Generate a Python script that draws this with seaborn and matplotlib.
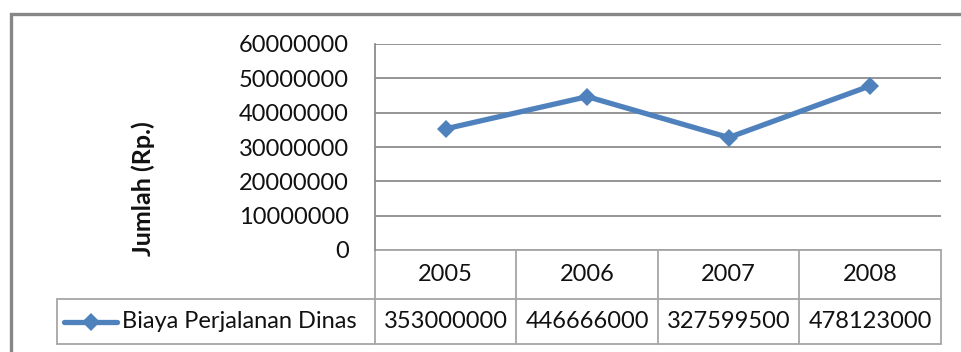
import numpy as np
import pandas as pd
import matplotlib
matplotlib.use("Agg")
import matplotlib.pyplot as plt
from matplotlib.patches import Rectangle
from matplotlib.lines import Line2D
import seaborn as sns

years = ["2005", "2006", "2007", "2008"]
biaya = [353000000, 446666000, 327599500, 478123000]
series_name = "Biaya Perjalanan Dinas"
y_tick_labels = ["0", "10000000", "20000000", "30000000", "40000000", "50000000", "60000000"]
y_label = "Jumlah (Rp.)"

sns.set_theme(style="white")
plt.rcParams["font.family"] = ["Lato", "DejaVu Sans"]

LINE = "#4F81BD"
GRID = "#8C8C8C"
TABLE = "#A6A6A6"
FS = 17

W, H = 962, 352
fig = plt.figure(figsize=(W / 100, H / 100), dpi=100)
fig.patch.set_facecolor("white")

# plot area in pixel bounds
left, right, top, bottom = 375, 941, 44, 250
ax = fig.add_axes([left / W, 1 - bottom / H, (right - left) / W, (bottom - top) / H])

df = pd.DataFrame({"pos": np.arange(len(years)), "nilai": biaya})
sns.lineplot(data=df, x="pos", y="nilai", ax=ax, color=LINE, linewidth=3.8,
             marker="D", markersize=9, markeredgewidth=0, clip_on=False)

ax.set_xlim(-0.5, len(years) - 0.5)
ax.set_ylim(0, 6e8)
ax.set_yticks(np.linspace(0, 6e8, len(y_tick_labels)), labels=y_tick_labels)
ax.set_xticks([])
ax.set_xlabel("")
ax.tick_params(axis="y", length=0, pad=19, labelsize=FS, labelcolor="#111111")
ax.yaxis.grid(True, color=GRID, linewidth=1.3)
ax.set_axisbelow(True)
for s in ["top", "right", "bottom"]:
    ax.spines[s].set_visible(False)
ax.spines["left"].set_color(GRID)
ax.spines["left"].set_linewidth(1.3)

ax.set_ylabel(y_label, fontsize=18, fontweight="bold", color="#111111")
ax.yaxis.set_label_coords(-0.388, 0.30)

# data table below the plot area
ph = bottom - top
pw = right - left
def ay(py):
    return (bottom - py) / ph
def axx(px):
    return (px - left) / pw

row_bot, tbl_bot = ay(299), ay(344)
blend = ax.get_xaxis_transform()
lk = dict(color=TABLE, linewidth=1.3, clip_on=False)

# horizontal rules
ax.add_line(Line2D([0, 1], [0, 0], transform=ax.transAxes, **lk))
ax.add_line(Line2D([axx(57), 1], [row_bot, row_bot], transform=ax.transAxes, **lk))
ax.add_line(Line2D([axx(57), 1], [tbl_bot, tbl_bot], transform=ax.transAxes, **lk))
# vertical rules between categories
for b in np.arange(len(years) + 1) - 0.5:
    ax.add_line(Line2D([b, b], [0, tbl_bot], transform=blend, **lk))
ax.add_line(Line2D([axx(57), axx(57)], [row_bot, tbl_bot], transform=ax.transAxes, **lk))

y_year = (0 + row_bot) / 2
y_val = (row_bot + tbl_bot) / 2
for i, (yr, v) in enumerate(zip(years, biaya)):
    ax.text(i, y_year, yr, transform=blend, ha="center", va="center",
            fontsize=FS, color="#111111", clip_on=False)
    ax.text(i, y_val, f"{v}", transform=blend, ha="center", va="center",
            fontsize=FS, color="#111111", clip_on=False)

# legend key inside the table
ax.add_line(Line2D([axx(64), axx(117)], [y_val, y_val], transform=ax.transAxes,
                   color=LINE, linewidth=3.8, solid_capstyle="round", clip_on=False))
ax.add_line(Line2D([axx(90.5)], [y_val], transform=ax.transAxes, color=LINE,
                   marker="D", markersize=9, markeredgewidth=0, clip_on=False))
ax.text(axx(122), y_val, series_name, transform=ax.transAxes, ha="left", va="center",
        fontsize=FS, color="#111111", clip_on=False)

# outer chart frame
fig.add_artist(Rectangle((11 / W, -0.2), 1.2, 1 - 14 / H + 0.2, transform=fig.transFigure,
                         fill=False, edgecolor="#878787", linewidth=2.4))

fig.savefig("out.png", dpi=100)
